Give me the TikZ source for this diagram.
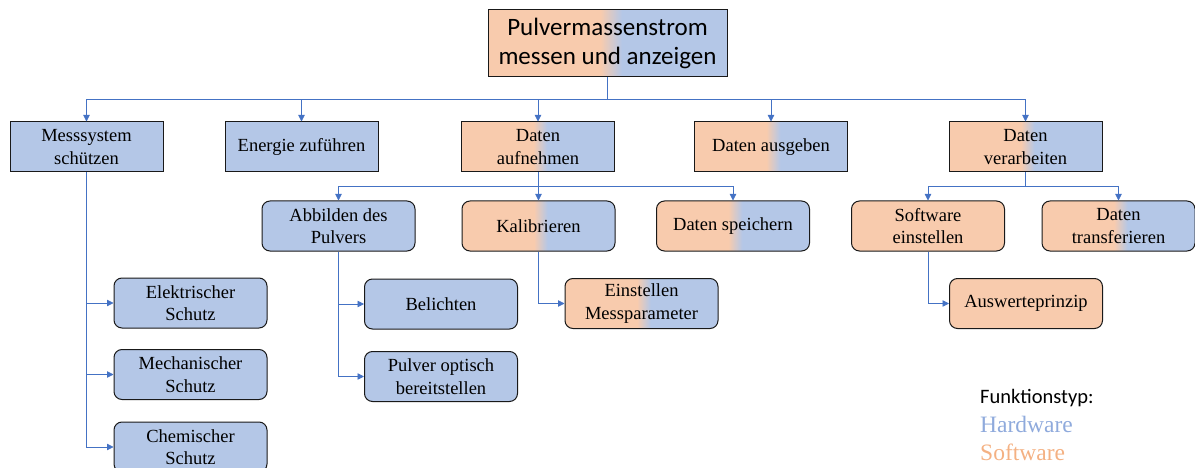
\documentclass[tikz,border=0pt]{standalone}
\usepackage{fontspec}
\setmainfont{Liberation Serif}
\newfontfamily\calibrifont{Carlito}
\usetikzlibrary{arrows.meta}

\definecolor{hwc}{HTML}{B4C7E7}
\definecolor{swc}{HTML}{F8CBAD}
\definecolor{linec}{HTML}{4472C4}
\definecolor{hwtext}{HTML}{8FAADC}
\definecolor{swtext}{HTML}{F4B183}
\pgfdeclarehorizontalshading{swhw}{100bp}{color(0bp)=(swc); color(48.5bp)=(swc); color(53bp)=(hwc); color(100bp)=(hwc)}

\tikzset{
  box/.style={draw=black!90,line width=1pt,minimum width=153pt,minimum height=50pt,
    inner sep=0pt,align=center,font=\fontsize{18.5}{22.5}\selectfont},
  rnd/.style={box,rounded corners=8pt},
  hwbox/.style={fill=hwc},
  swbox/.style={fill=swc},
  mixbox/.style={shade,shading=swhw},
  conn/.style={draw=linec,line width=0.8pt},
  arr/.style={conn,-{Triangle[length=6.5pt,width=6.5pt]}}
}

\begin{document}
\begin{tikzpicture}[x=1pt,y=-1pt]
\useasboundingbox (0,0) rectangle (1195,468);

% main function
\node[box,mixbox,minimum width=239pt,minimum height=67pt,
  font=\calibrifont\fontsize{25}{29.5}\selectfont] (top) at (607.5,43.5)
  {Pulvermassenstrom\\messen und anzeigen};
\coordinate (bus1) at (0,99);

% first level
\node[box,hwbox] (ms) at (86.5,147) {Messsystem\\schützen};
\node[box,hwbox] (ez) at (301.5,147) {Energie zuführen};
\node[box,mixbox] (da) at (538,147) {Daten\\aufnehmen};
\node[box,mixbox] (dg) at (771,147) {Daten ausgeben};
\node[box,mixbox] (dv) at (1025.5,147) {Daten\\verarbeiten};

\foreach \n in {ms,ez,da,dg,dv}
  \draw[arr] (top.south) -- (top.south |- bus1) -| (\n.north);

% second level
\node[rnd,hwbox] (ap) at (338.5,226) {Abbilden des\\Pulvers};
\node[rnd,mixbox] (kal) at (538.5,226) {Kalibrieren};
\node[rnd,mixbox] (ds) at (733,226) {Daten speichern};
\node[rnd,swbox] (se) at (928,226) {Software\\einstellen};
\node[rnd,mixbox] (dt) at (1118.5,226) {Daten\\transferieren};
\coordinate (bus2) at (0,186.5);

\foreach \n in {ap,kal,ds}
  \draw[arr] (da.south) -- (da.south |- bus2) -| (\n.north);
\foreach \n in {se,dt}
  \draw[arr] (dv.south) -- (dv.south |- bus2) -| (\n.north);

% third level
\node[rnd,hwbox] (es) at (190.5,303) {Elektrischer\\Schutz};
\node[rnd,hwbox] (mes) at (190.5,374.5) {Mechanischer\\Schutz};
\node[rnd,hwbox] (cs) at (190.5,447) {Chemischer\\Schutz};
\node[rnd,hwbox] (bel) at (441,304) {Belichten};
\node[rnd,hwbox] (pob) at (441,376.5) {Pulver optisch\\bereitstellen};
\node[rnd,mixbox] (em) at (641.5,303.5) {Einstellen\\Messparameter};
\node[rnd,swbox] (aw) at (1026,303.5) {Auswerteprinzip};

\foreach \n in {es,mes,cs}
  \draw[arr] (ms.south) |- (\n.west);
\foreach \n in {bel,pob}
  \draw[arr] (ap.south) |- (\n.west);
\draw[arr] (kal.south) |- (em.west);
\draw[arr] (se.south) |- (aw.west);

% legend
\node[anchor=base west,inner sep=0pt,font=\calibrifont\fontsize{20.5}{24}\selectfont] (leg) at (980,403) {Funktionstyp:};
\node[anchor=base west,inner sep=0pt,text=hwtext,font=\fontsize{23.5}{26}\selectfont] (leghw) at (980,432) {Hardware};
\node[anchor=base west,inner sep=0pt,text=swtext,font=\fontsize{23.5}{26}\selectfont] (legsw) at (980,460) {Software};
\end{tikzpicture}
\end{document}
